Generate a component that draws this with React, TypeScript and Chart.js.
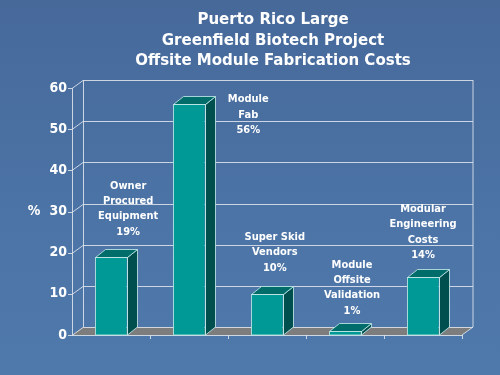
import React, { useEffect, useRef } from "react";
import { Chart, registerables } from "chart.js";

Chart.register(...registerables);

const titleLines = ["Puerto Rico Large", "Greenfield Biotech Project", "Offsite Module Fabrication Costs"];
const categoryLines = [
  ["Owner", "Procured", "Equipment"],
  ["Module", "Fab"],
  ["Super Skid", "Vendors"],
  ["Module", "Offsite", "Validation"],
  ["Modular", "Engineering", "Costs"],
];
const categories = categoryLines.map((l) => l.join(" "));
const values = [19, 56, 10, 1, 14];
// label anchors in data units (category index, value at last line)
const labelAnchorX = [0.22, 1.76, 2.1, 3.09, 4.0];
const labelAnchorY = [25.1, 49.8, 16.3, 5.9, 19.4];
const yAxisLabel = "%";
const yMin = 0;
const yMax = 60;
const yStep = 10;

const FONT = "'DejaVu Sans Condensed', 'DejaVu Sans', Tahoma, sans-serif";
const BAR_D = { x: 10, y: -8 };
const WALL_D = { x: 11, y: -8 };
const LINE = "rgba(222,228,236,0.88)";

const threeD = {
  id: "threeD",
  beforeDatasetsDraw(chart: any) {
    const { ctx, chartArea, scales } = chart;
    const { left, right, top, bottom } = chartArea;
    const y = scales.y;
    const x = scales.x;
    const dx = WALL_D.x, dy = WALL_D.y;
    ctx.save();
    // floor
    ctx.beginPath();
    ctx.moveTo(left, bottom);
    ctx.lineTo(right, bottom);
    ctx.lineTo(right + dx, bottom + dy);
    ctx.lineTo(left + dx, bottom + dy);
    ctx.closePath();
    ctx.fillStyle = "#7d7d7d";
    ctx.fill();
    ctx.strokeStyle = LINE;
    ctx.lineWidth = 1;
    // back gridlines + diagonals + ticks
    y.ticks.forEach((t: any) => {
      const py = Math.round(y.getPixelForValue(t.value)) + 0.5;
      ctx.beginPath();
      ctx.moveTo(left + dx, py + dy);
      ctx.lineTo(right + dx, py + dy);
      ctx.moveTo(left, py);
      ctx.lineTo(left + dx, py + dy);
      ctx.moveTo(left - 4, py);
      ctx.lineTo(left, py);
      ctx.stroke();
    });
    const lx = Math.round(left) + 0.5;
    ctx.beginPath();
    ctx.moveTo(lx + dx, bottom + dy);
    ctx.lineTo(lx + dx, top + dy);
    ctx.moveTo(right + dx, bottom + dy);
    ctx.lineTo(right + dx, top + dy);
    ctx.moveTo(lx, bottom);
    ctx.lineTo(lx, top);
    ctx.moveTo(left, bottom + 0.5);
    ctx.lineTo(right, bottom + 0.5);
    ctx.moveTo(right, bottom);
    ctx.lineTo(right + dx, bottom + dy);
    ctx.stroke();
    // category boundary ticks
    for (let i = 0; i < categories.length; i++) {
      const px = Math.round(x.getPixelForValue(i + 0.5)) + 0.5;
      ctx.beginPath();
      ctx.moveTo(px, bottom);
      ctx.lineTo(px, bottom + 4);
      ctx.stroke();
    }
    ctx.restore();
  },
  afterDatasetsDraw(chart: any) {
    const { ctx, scales } = chart;
    const meta = chart.getDatasetMeta(0);
    const dx = BAR_D.x, dy = BAR_D.y;
    ctx.save();
    ctx.lineWidth = 1;
    ctx.strokeStyle = "rgba(190,230,230,0.85)";
    meta.data.forEach((bar: any) => {
      const { x: cx, y: ty, base, width } = bar.getProps(["x", "y", "base", "width"], true);
      const l = Math.round(cx - width / 2) + 0.5;
      const r = Math.round(cx + width / 2) + 0.5;
      const t = Math.round(ty) + 0.5;
      const b = base;
      // side
      ctx.beginPath();
      ctx.moveTo(r, t);
      ctx.lineTo(r + dx, t + dy);
      ctx.lineTo(r + dx, b + dy);
      ctx.lineTo(r, b);
      ctx.closePath();
      ctx.fillStyle = "#004f4f";
      ctx.fill();
      ctx.stroke();
      // top
      ctx.beginPath();
      ctx.moveTo(l, t);
      ctx.lineTo(r, t);
      ctx.lineTo(r + dx, t + dy);
      ctx.lineTo(l + dx, t + dy);
      ctx.closePath();
      ctx.fillStyle = "#006d6a";
      ctx.fill();
      ctx.stroke();
      // front outline
      ctx.strokeRect(l, t, r - l, b - t);
    });
    // labels
    ctx.fillStyle = "#ffffff";
    ctx.textAlign = "center";
    ctx.textBaseline = "middle";
    ctx.font = `bold 11px ${FONT}`;
    const lh = 15.3;
    categoryLines.forEach((lines, i) => {
      const all = [...lines, `${values[i]}%`];
      const px = scales.x.getPixelForValue(labelAnchorX[i]);
      const py = scales.y.getPixelForValue(labelAnchorY[i]);
      all.forEach((s, k) => {
        ctx.fillText(s, px, py - (all.length - 1 - k) * lh);
      });
    });
    // y axis label
    ctx.font = `bold 14px ${FONT}`;
    ctx.fillText(yAxisLabel, 34, scales.y.getPixelForValue(30));
    // title
    ctx.font = `bold 16.7px ${FONT}`;
    titleLines.forEach((s, k) => {
      ctx.fillText(s, 273, 20 + k * 20.5);
    });
    ctx.restore();
  },
};

export default function App() {
  const ref = useRef<HTMLCanvasElement>(null);
  useEffect(() => {
    const chart = new Chart(ref.current!, {
      type: "bar",
      data: {
        labels: categories,
        datasets: [
          {
            data: values,
            backgroundColor: "#009995",
            borderWidth: 0,
            categoryPercentage: 0.8,
            barPercentage: 0.5,
          },
        ],
      },
      options: {
        responsive: false,
        animation: false,
        layout: { padding: { left: 32, right: 38, top: 88, bottom: 40 } },
        plugins: { legend: { display: false }, title: { display: false }, tooltip: { enabled: false } },
        scales: {
          x: {
            ticks: { display: false },
            grid: { display: false, drawTicks: false },
            border: { display: false },
            afterFit: (s: any) => {
              s.height = 0;
            },
          },
          y: {
            min: yMin,
            max: yMax,
            ticks: { stepSize: yStep, color: "#ffffff", padding: 5, font: { family: FONT, weight: "bold", size: 14 } },
            grid: { display: false, drawTicks: false },
            border: { display: false },
            afterFit: (s: any) => {
              s.width = 40;
            },
          },
        },
      },
      plugins: [threeD],
    });
    return () => chart.destroy();
  }, []);
  return (
    <div
      style={{
        position: "absolute",
        left: 0,
        top: 0,
        width: 500,
        height: 375,
        background: "linear-gradient(180deg, #46699a 0%, #4c74a6 60%, #5079ab 100%)",
      }}
    >
      <canvas ref={ref} width={500} height={375} style={{ display: "block" }} />
    </div>
  );
}
